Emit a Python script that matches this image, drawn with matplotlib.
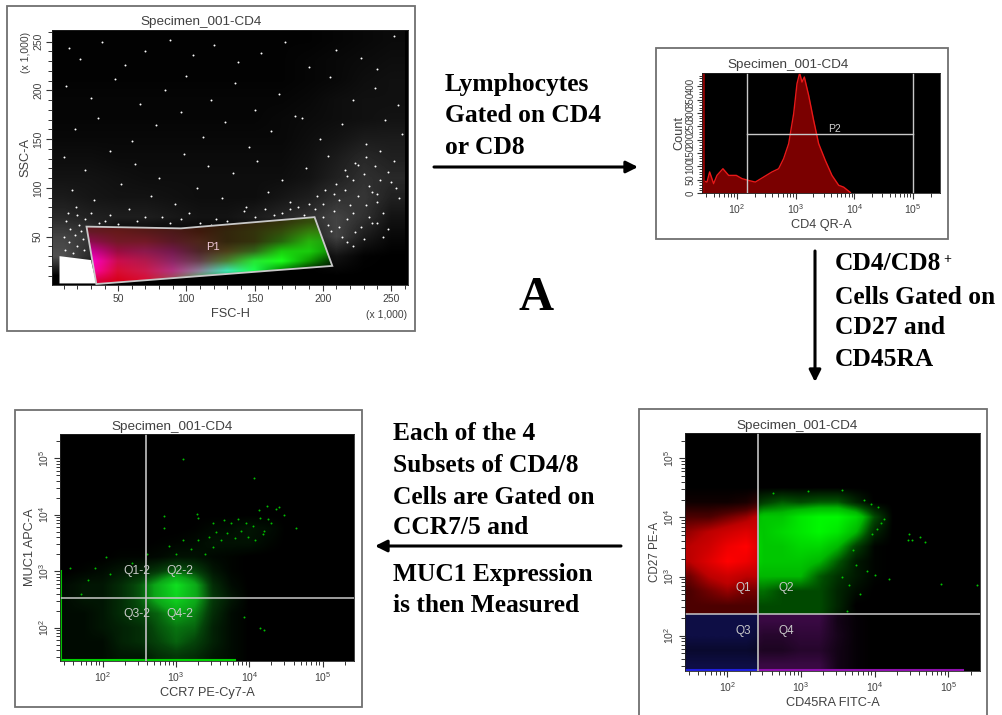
import numpy as np
import matplotlib
matplotlib.use('Agg')
import matplotlib.pyplot as plt
from matplotlib.colors import LinearSegmentedColormap, to_rgb
from matplotlib.patches import Polygon, Rectangle

W, H = 1002, 715
LABEL = '#404040'
plt.rcParams['font.family'] = ['Liberation Sans', 'DejaVu Sans']

white_density = [
    [0, 0, 0, 0, 0, 0, 0, 0, 0, 0, 0, 0, 0],
    [3, 1.5, 0, 0, 0, 0, 0, 0, 0, 0, .7, .1, 0],
    [2.5, 2, 0, 0, 0, 0, 0, 0, 0, 1, 2.5, 1, .3],
    [1.5, 1.2, 1.1, 1.1, .9, .7, .7, 1, 1.4, 1.8, 2.5, 1.8, .7],
    [1, .8, .7, .7, .6, .5, .5, .5, .8, 1.1, 1.8, 2, 1.2],
    [.7, .7, .6, .5, .5, .5, .5, .5, .5, .7, 1.2, 1.8, 1.5],
    [.5, .5, .4, .4, .4, .4, .4, .4, .4, .6, 1, 1.5, 1.2],
    [.3, .3, .3, .3, .3, .3, .3, .3, .3, .5, .7, 1, 1],
    [.2, .2, .2, .2, .2, .2, .2, .2, .3, .4, .5, .6, .7],
    [.2, .2, .2, .2, .2, .2, .2, .2, .2, .3, .5, .6, .6],
    [.1, .1, .1, .1, .1, .1, .1, .1, .1, .2, .3, .5, .6],
    [.1, .1, .1, .1, .1, .1, .1, .1, .1, .2, .3, .4, .5],
    [.1, .1, .1, .1, .1, .1, .1, .1, .1, .1, .2, .3, .4],
]
gate_fsc = [26.8, 96, 194, 207, 34]
gate_ssc = [60.3, 58.5, 70, 20, 1.4]
corner_fsc = [7, 30, 34, 7]
corner_ssc = [30, 26, 2, 2]
p1_red = [
    [.85, .85, .85, .6, .25, 0, 0, 0, 0, 0],
    [1, .85, .8, .7, .55, .25, .1, 0, 0, 0],
    [1, .8, .7, .55, .4, .3, .15, .1, .05, 0],
    [.8, .6, .55, .45, .3, .3, .2, .1, .1, .05],
    [.55, .45, .45, .35, .3, .2, .2, .15, .15, .1],
    [.4, .4, .35, .3, .25, .2, .2, .2, .2, .2],
    [.35, .3, .3, .25, .2, .2, .2, .2, .2, .2],
]
p1_green = [
    [0, 0, .05, .3, .7, .6, .2, 0, 0, 0],
    [0, .05, .1, .2, .5, .9, 1, .5, .1, 0],
    [0, .05, .1, .15, .25, .5, .9, 1, .6, .1],
    [0, .05, .1, .1, .15, .25, .4, .8, .8, .5],
    [.05, .1, .1, .1, .15, .15, .2, .4, .7, .6],
    [.1, .1, .1, .1, .1, .15, .2, .3, .5, .5],
    [.1, .1, .1, .1, .1, .1, .15, .2, .3, .3],
]
p1_blue = [
    [.3, .1, .2, .3, .3, .2, 0, 0, 0, 0],
    [.7, .2, .3, .5, .6, .7, .3, 0, 0, 0],
    [.8, .3, .3, .4, .3, .2, .2, .1, 0, 0],
    [.6, .25, .3, .3, .15, .1, .1, .05, .05, 0],
    [.3, .15, .15, .15, .1, .05, .05, .05, .05, .05],
    [.15, .1, .1, .1, .05, .05, .05, .05, .05, .05],
    [.1, .1, .05, .05, .05, .05, .05, .05, .05, .05],
]
p1_dots = [
    (14, 244), (22, 232), (38, 250), (55, 226), (70, 240), (88, 252), (105, 236), (120, 247),
    (138, 229), (155, 238), (172, 250), (190, 224), (210, 241), (228, 233), (240, 222), (252, 256),
    (12, 205), (30, 192), (48, 212), (66, 186), (84, 200), (100, 215), (118, 190), (136, 208),
    (150, 180), (168, 196), (185, 172), (205, 214), (222, 190), (238, 203), (255, 185),
    (18, 160), (35, 172), (60, 148), (78, 165), (96, 178), (112, 152), (128, 168), (146, 142),
    (162, 158), (180, 174), (198, 150), (214, 166), (232, 145), (246, 170), (258, 155),
    (10, 132), (26, 118), (44, 138), (62, 125), (80, 110), (98, 135), (116, 122), (134, 115),
    (152, 128), (170, 108), (188, 120), (204, 133), (218, 112), (226, 124), (242, 138), (250, 106),
    (16, 98), (32, 88), (52, 104), (74, 92), (92, 84), (108, 100), (126, 90), (144, 80),
    (160, 96), (176, 86), (194, 78), (208, 94), (220, 82), (234, 102), (244, 74), (256, 90),
    (20, 72), (40, 66), (58, 78), (82, 70), (102, 74), (122, 68), (142, 76), (164, 72),
    (182, 80), (200, 84), (212, 60), (224, 55), (236, 64), (248, 58),
    (196, 92), (200, 70), (204, 62), (208, 76), (212, 88), (216, 98), (218, 68), (222, 108),
    (222, 74), (226, 92), (228, 60), (230, 114), (232, 82), (234, 70), (236, 96), (238, 122),
    (240, 86), (242, 108), (244, 50), (240, 64), (214, 50), (218, 44), (222, 40), (230, 48),
    (210, 104), (216, 118), (224, 126), (232, 132), (240, 94), (248, 116), (252, 128), (254, 100),
    (12, 66), (15, 58), (18, 52), (21, 62), (24, 48), (10, 50), (14, 44), (20, 40), (25, 36),
    (11, 36), (17, 33), (23, 56), (13, 74), (19, 80), (26, 68), (30, 74), (36, 64), (44, 72),
    (50, 63), (64, 66), (70, 70), (88, 64), (96, 68), (110, 64), (118, 62), (130, 66), (150, 70),
    (158, 78), (170, 74), (176, 78), (186, 72), (190, 84), (202, 98), (206, 56),
]

# --- panel 2: CD4 QR-A histogram
hist_log = [1.415, 1.489, 1.534, 1.602, 1.659, 1.761, 1.858, 1.989, 2.085, 2.199, 2.313,
            2.455, 2.597, 2.71, 2.795, 2.881, 2.966, 3.023, 3.068, 3.108, 3.148, 3.222,
            3.307, 3.392, 3.506, 3.619, 3.733, 3.818, 3.932]
hist_count = [47, 41, 79, 35, 66, 91, 66, 66, 54, 47, 41, 60, 79, 91, 129, 185, 297, 410,
              450, 416, 435, 366, 272, 185, 122, 66, 29, 22, 2]
count_ticks = [0, 50, 100, 150, 200, 250, 300, 350, 400]

# --- panels 3 and 4: density in steps of 0.25 decade, 0-10
cd27_density = [
    [3, 3, 3, 3, 3, 3, 3, 3, 1, .3, 0, 0, 0],
    [2, 2, 2, 2, 1.5, 1.5, 2, 2, 1, .3, 0, 0, 0],
    [3, 3, 3, 3, 2, 2, 2.5, 2.5, 1.2, .3, 0, 0, 0],
    [3, 3, 3, 3, 3, 3, 3, 3, 1, .3, 0, 0, 0],
    [3, 3, 3, 3, 3, 3, 3, 3, 1.5, 0, 0, 0, 0],
    [3, 4, 5, 4, 4, 3, 3, 3, 1.5, .5, 0, 0, 0],
    [4, 6, 7, 6, 6, 6, 6, 3.5, 2, 1, .2, 0, 0],
    [6, 8, 10, 9, 7, 7, 7, 6, 3.5, 1, .2, 0, 0],
    [6, 7, 9, 10, 7, 7, 8, 8, 6, 2.5, .2, 0, 0],
    [5, 6, 7, 8, 7, 8, 9, 10, 9, 6, 1.5, 0, 0],
    [3, 3, 4, 5, 7, 7, 9, 10, 10, 8, 3, 0, 0],
    [.6, .6, .6, 1, 2.5, 3.5, 3, 3.5, 3.5, 1.5, 0, 0, 0],
    [0, 0, 0, 0, 0, 0, 0, 0, 0, 0, 0, 0, 0],
]
cd27_gate_x, cd27_gate_y = 2.42, 2.36
cd27_dots = [(3.1, 4.45), (2.62, 4.42), (3.55, 4.46), (3.85, 4.3), (3.95, 4.22), (4.05, 4.18), (4.12, 3.97),
             (4.47, 3.72), (4.51, 3.62), (4.62, 3.67), (4.68, 3.58), (4.45, 3.61), (4.08, 3.9),
             (4.03, 3.8), (3.96, 3.72), (3.62, 2.42), (4.0, 3.02), (3.9, 3.1), (3.75, 3.2), (3.8, 2.7),
             (3.65, 2.85), (3.55, 3.0), (3.7, 3.45), (5.39, 2.85), (4.9, 2.87), (4.2, 2.95)]
muc1_density = [
    [.5, .5, .5, 1, 1, 2, 2.5, 2, 1, .5, 0, 0, 0],
    [.5, .5, .5, 1.5, 2, 3, 4, 3, 1.5, .5, 0, 0, 0],
    [.5, .5, 1, 1.5, 2, 3.5, 4.5, 4, 1.5, .5, 0, 0, 0],
    [.5, .5, 1, 2, 3, 4, 6, 5, 2, .5, 0, 0, 0],
    [.5, 1, 1, 2, 3.5, 6.5, 9, 6.5, 2.5, 1, 0, 0, 0],
    [.5, 1, 1, 2, 3.5, 6.5, 10, 6.5, 2, .5, 0, 0, 0],
    [0, .2, .5, 1, 1.5, 2.5, 4, 3, 1, .2, 0, 0, 0],
    [0, 0, 0, .2, .2, .4, .8, .8, .4, .2, 0, 0, 0],
    [0, 0, 0, 0, 0, .1, .2, .4, .8, .8, .8, .3, 0],
    [0, 0, 0, 0, 0, 0, 0, .1, .4, .5, .9, .6, 0],
    [0, 0, 0, 0, 0, 0, 0, 0, 0, 0, 0, 0, 0],
    [0, 0, 0, 0, 0, 0, 0, 0, 0, 0, 0, 0, 0],
    [0, 0, 0, 0, 0, 0, 0, 0, 0, 0, 0, 0, 0],
]
muc1_gate_x, muc1_gate_y = 2.59, 2.527
muc1_dots = [(3.1, 4.98), (4.06, 4.65), (2.83, 3.98), (4.24, 4.16), (4.37, 4.1), (4.41, 4.13), (4.13, 4.08),
             (4.47, 4.0), (3.28, 4.02), (2.83, 3.77), (3.3, 3.95), (4.14, 2.0), (4.63, 3.77), (2.05, 3.25),
             (3.93, 2.18), (4.2, 1.95), (3.5, 3.85), (3.65, 3.9), (3.75, 3.85), (3.85, 3.92), (3.95, 3.85),
             (4.05, 3.8), (4.15, 3.95), (4.25, 3.92), (4.2, 3.72), (4.3, 3.85), (3.45, 3.6), (3.55, 3.7),
             (3.62, 3.55), (3.7, 3.68), (3.8, 3.58), (3.88, 3.72), (3.98, 3.6), (4.08, 3.55), (4.18, 3.65),
             (3.2, 3.4), (3.3, 3.55), (3.4, 3.3), (3.5, 3.42), (3.1, 3.55), (3.0, 3.3), (2.9, 3.45),
             (2.6, 3.3), (2.4, 3.15), (1.8, 2.85), (1.55, 3.05), (1.7, 2.6), (1.9, 3.05), (2.1, 2.95)]


def log_ticks(ax, which):
    major = [2, 3, 4, 5]
    minor = [d + np.log10(k) for d in range(1, 6) for k in range(2, 10)]
    labels = ['$\\mathregular{10^{%d}}$' % d for d in major]
    if which == 'x':
        ax.set_xticks(major, labels)
        ax.set_xticks([m for m in minor if ax.get_xlim()[0] < m < ax.get_xlim()[1]], minor=True)
    else:
        ax.set_yticks(major, labels, rotation=90, va='center')
        ax.set_yticks([m for m in minor if ax.get_ylim()[0] < m < ax.get_ylim()[1]], minor=True)


def panel(left, top, right, bottom, xlim, ylim):
    ax = fig.add_axes([left / W, 1 - bottom / H, (right - left) / W, (bottom - top) / H])
    ax.set_facecolor('black')
    ax.set_xlim(xlim)
    ax.set_ylim(ylim)
    ax.tick_params(which='major', length=4.5, width=.8, color='#333333', labelsize=7.5, labelcolor=LABEL, pad=2)
    ax.tick_params(which='minor', length=3, width=.7, color='#333333')
    for s in ax.spines.values():
        s.set_color('#222222')
        s.set_linewidth(.6)
    return ax


def density_image(ax, grid, cmap, clip=None, step=0.25, start=1.375):
    n = len(grid)
    m = len(grid[0])
    xl, yl = ax.get_xlim(), ax.get_ylim()
    im = ax.imshow(np.array(grid) / 10, origin='lower', cmap=cmap, vmin=0, vmax=1,
                   interpolation='bilinear', aspect='auto',
                   extent=[start, start + m * step, start, start + n * step])
    if clip is not None:
        im.set_clip_path(Rectangle((clip[0], clip[2]), clip[1] - clip[0], clip[3] - clip[2], transform=ax.transData))
    ax.set_xlim(xl)
    ax.set_ylim(yl)


def shade(color):
    c = np.array(to_rgb(color))
    return LinearSegmentedColormap.from_list('m', [(0, (0, 0, 0)), (.3, tuple(c * .3)), (.6, tuple(c * .74)), (1, tuple(c))])


fig = plt.figure(figsize=(W / 100, H / 100), dpi=100, facecolor='white')
bg = fig.add_axes([0, 0, 1, 1])
bg.set_xlim(0, W)
bg.set_ylim(H, 0)
bg.axis('off')

# panel frames
for x0, y0, x1, y1 in [(7, 6, 415, 331), (656, 48, 948, 239), (639, 409, 987, 722), (15, 410, 362, 707)]:
    bg.add_patch(Rectangle((x0, y0), x1 - x0, y1 - y0, fc='white', ec='#707070', lw=1.3))

# ---- panel 1
ax1 = panel(52, 30, 408, 285, (1.5, 262.5), (0.4, 262))
ax1.imshow(np.array(white_density) / 10, origin='lower', cmap='gray', vmin=0, vmax=.95,
           interpolation='bilinear', aspect='auto', extent=[0, 260, 0, 260])
ax1.set_xlim(1.5, 262.5)
ax1.set_ylim(0.4, 262)
ax1.scatter(*zip(*p1_dots), s=2, c='white', lw=0)
gate_xy = np.column_stack([gate_fsc, gate_ssc])
ax1.add_patch(Polygon(np.column_stack([corner_fsc, corner_ssc]), fc='white', ec='none'))
ax1.add_patch(Polygon(gate_xy, fc='black', ec='none'))
rgb = np.dstack([p1_red, p1_green, p1_blue])
im1 = ax1.imshow(rgb, origin='lower', interpolation='bilinear', aspect='auto',
                 extent=[20, 220, 0, 70], zorder=2)
im1.set_clip_path(Polygon(gate_xy, transform=ax1.transData))
ax1.set_xlim(1.5, 262.5)
ax1.set_ylim(0.4, 262)
ax1.add_patch(Polygon(gate_xy, fc='none', ec='#c8c8c8', lw=1.3, zorder=3))
ax1.text(119.7, 39, 'P1', color='#f0c8d8', fontsize=8, ha='center', va='center', zorder=4)
ax1.set_xticks([50, 100, 150, 200, 250])
ax1.set_xticks(range(10, 261, 10), minor=True)
ax1.set_yticks([50, 100, 150, 200, 250], ['50', '100', '150', '200', '250'], rotation=90, va='center')
ax1.set_yticks(range(10, 261, 10), minor=True)
ax1.set_xlabel('FSC-H', fontsize=9.2, color=LABEL, labelpad=3)
ax1.set_ylabel('SSC-A', fontsize=9.2, color=LABEL, labelpad=1)
bg.text(201, 22, 'Specimen_001-CD4', fontsize=9.7, color=LABEL, ha='center', va='center')
bg.text(387, 315, '(x 1,000)', fontsize=7.5, color=LABEL, ha='center', va='center')
bg.text(26, 52, '(x 1,000)', fontsize=7.5, color=LABEL, ha='center', va='center', rotation=90)

# ---- panel 2
ax2 = panel(702, 73, 940, 193, (1.404, 5.46), (0, 450))
ax2.fill_between(hist_log, hist_count, 0, color='#7a0000', lw=0)
ax2.plot(hist_log, hist_count, color='#e81818', lw=1)
ax2.axvline(1.42, color='#8a0000', lw=2)
ax2.plot([2.176, 2.176], [0, 450], color='#c8c8c8', lw=1)
ax2.plot([4.994, 4.994], [0, 450], color='#c8c8c8', lw=1)
ax2.plot([2.176, 4.994], [220, 220], color='#c8c8c8', lw=1)
ax2.text(3.665, 241, 'P2', color='#d0d0d0', fontsize=7.5, ha='center', va='center')
log_ticks(ax2, 'x')
ax2.set_yticks(count_ticks, [str(c) for c in count_ticks], rotation=90, va='center')
ax2.set_yticks(range(0, 450, 10), minor=True)
ax2.tick_params(axis='y', which='minor', length=2)
ax2.tick_params(axis='y', which='major', length=3.5, labelsize=7, pad=1)
ax2.set_xlabel('CD4 QR-A', fontsize=9.2, color=LABEL, labelpad=2)
ax2.set_ylabel('Count', fontsize=9.2, color=LABEL, labelpad=0)
bg.text(788, 65, 'Specimen_001-CD4', fontsize=9.7, color=LABEL, ha='center', va='center')

# ---- panel 3
xlim3, ylim3 = (1.425, 5.43), (1.4, 5.43)
ax3 = panel(685, 433, 980, 671, xlim3, ylim3)
density_image(ax3, cd27_density, shade('#ff0000'), clip=(xlim3[0], cd27_gate_x, cd27_gate_y, ylim3[1]))
density_image(ax3, cd27_density, shade('#00f800'), clip=(cd27_gate_x, xlim3[1], cd27_gate_y, ylim3[1]))
density_image(ax3, cd27_density, shade('#3030e8'), clip=(xlim3[0], cd27_gate_x, ylim3[0], cd27_gate_y))
density_image(ax3, cd27_density, shade('#c020e0'), clip=(cd27_gate_x, xlim3[1], ylim3[0], cd27_gate_y))
ax3.scatter(*zip(*cd27_dots), s=2, c='#00c800', lw=0)
ax3.plot([1.43, cd27_gate_x], [1.42, 1.42], color='#2020e0', lw=1.5)
ax3.plot([cd27_gate_x, 5.2], [1.42, 1.42], color='#9010b0', lw=1.5)
ax3.axvline(cd27_gate_x, color='#b4b4b4', lw=1.3)
ax3.axhline(cd27_gate_y, color='#c8c8c8', lw=1.1)
for label, x, y in [('Q1', 2.21, 2.81), ('Q2', 2.8, 2.81), ('Q3', 2.22, 2.08), ('Q4', 2.8, 2.08)]:
    ax3.text(x, y, label, color='#c8c8c8', fontsize=8.5, ha='center', va='center')
log_ticks(ax3, 'x')
log_ticks(ax3, 'y')
ax3.set_xlabel('CD45RA FITC-A', fontsize=9.2, color=LABEL, labelpad=2)
ax3.set_ylabel('CD27 PE-A', fontsize=8.4, color=LABEL, labelpad=1)
bg.text(797, 426, 'Specimen_001-CD4', fontsize=9.7, color=LABEL, ha='center', va='center')

# ---- panel 4
xlim4, ylim4 = (1.418, 5.427), (1.408, 5.43)
ax4 = panel(60, 434, 354, 661, xlim4, ylim4)
density_image(ax4, muc1_density, shade('#10e020'))
ax4.scatter(*zip(*muc1_dots), s=2, c='#00c000', lw=0)
ax4.plot([1.42, 3.8], [1.43, 1.43], color='#00d000', lw=1.5)
ax4.plot([1.43, 1.43], [1.41, 3.0], color='#00c000', lw=1.5)
ax4.axvline(muc1_gate_x, color='#b4b4b4', lw=1.3)
ax4.axhline(muc1_gate_y, color='#c8c8c8', lw=1.1)
for label, x, y in [('Q1-2', 2.46, 3.0), ('Q2-2', 3.05, 3.0), ('Q3-2', 2.46, 2.24), ('Q4-2', 3.05, 2.24)]:
    ax4.text(x, y, label, color='#c8c8c8', fontsize=8.7, ha='center', va='center')
log_ticks(ax4, 'x')
log_ticks(ax4, 'y')
ax4.set_xlabel('CCR7 PE-Cy7-A', fontsize=9.2, color=LABEL, labelpad=2)
ax4.set_ylabel('MUC1 APC-A', fontsize=9.2, color=LABEL, labelpad=1)
bg.text(172, 427, 'Specimen_001-CD4', fontsize=9.7, color=LABEL, ha='center', va='center')

# ---- captions and arrows
cap = dict(family=['Liberation Serif', 'DejaVu Serif'], weight='bold', fontsize=18.4, va='center', color='black')
for txt, x, y in [('Lymphocytes', 445, 84), ('Gated on CD4', 445, 115), ('or CD8', 445, 147),
                  ('CD4/CD8', 835, 264), ('Cells Gated on', 835, 297), ('CD27 and', 835, 328), ('CD45RA', 835, 359),
                  ('Each of the 4', 393, 434), ('Subsets of CD4/8', 393, 466), ('Cells are Gated on', 393, 497),
                  ('CCR7/5 and', 393, 528), ('MUC1 Expression', 393, 575), ('is then Measured', 393, 606)]:
    bg.text(x, y, txt, **cap)
bg.text(943, 260, '+', family=['Liberation Serif'], weight='bold', fontsize=10, va='center', color='black')
bg.text(536, 298, 'A', family=['Liberation Serif'], weight='bold', fontsize=35, ha='center', va='center', color='black')
for start, end in [((434, 167), (638, 167)), ((815, 251), (815, 382)), ((621, 546), (375, 546))]:
    bg.annotate('', xy=end, xytext=start,
                arrowprops=dict(arrowstyle='-|>,head_width=.35,head_length=.7', color='black', lw=2.2,
                                shrinkA=0, shrinkB=0))

fig.savefig('out.png', dpi=100)
